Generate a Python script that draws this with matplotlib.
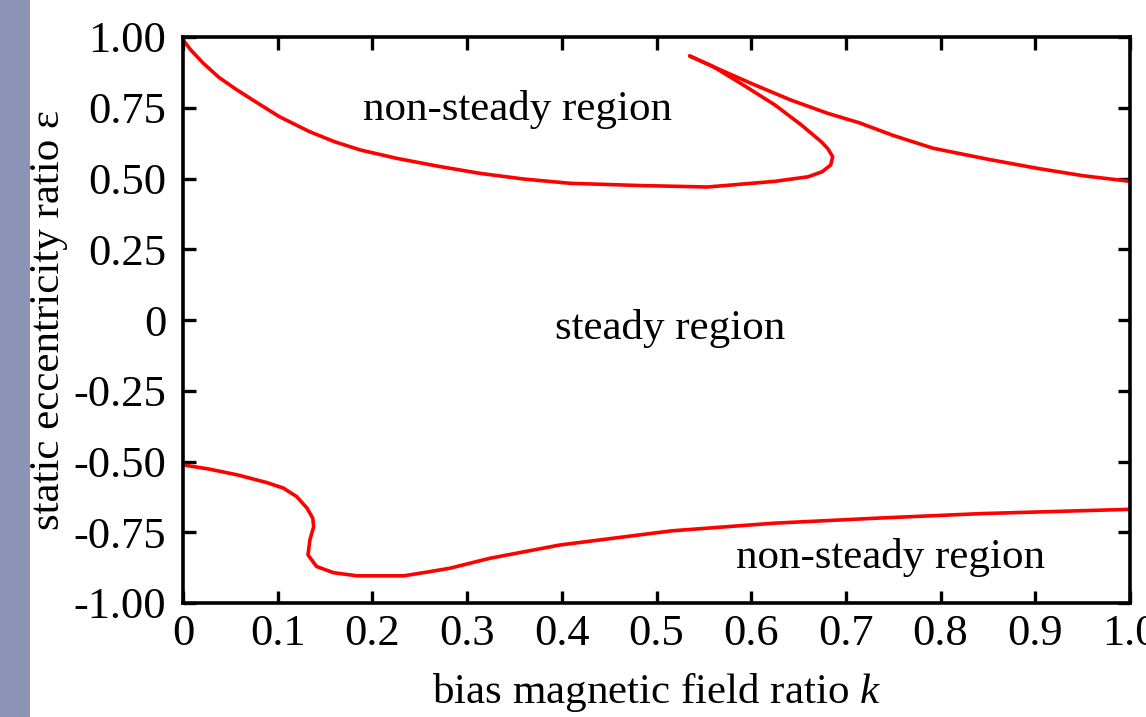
import numpy as np
import matplotlib
matplotlib.use('Agg')
import matplotlib.pyplot as plt
from matplotlib.patches import Rectangle

plt.rcParams['font.family'] = ['Liberation Serif', 'DejaVu Serif']
plt.rcParams['mathtext.fontset'] = 'custom'
plt.rcParams['mathtext.rm'] = 'Liberation Serif'
plt.rcParams['mathtext.it'] = 'Liberation Serif:italic'

# upper boundary: left branch, loop, back up to the tip
k_upper = [0.0, 0.008, 0.0215, 0.038, 0.057, 0.080, 0.102, 0.134, 0.160, 0.187, 0.226,
           0.270, 0.314, 0.360, 0.409, 0.484, 0.554, 0.625, 0.660, 0.675, 0.684,
           0.686, 0.681, 0.674, 0.653, 0.625, 0.589, 0.560, 0.535]
e_upper = [0.99, 0.955, 0.907, 0.857, 0.813, 0.764, 0.718, 0.665, 0.630, 0.601, 0.571,
           0.543, 0.518, 0.498, 0.483, 0.475, 0.470, 0.490, 0.506, 0.524, 0.548,
           0.577, 0.605, 0.630, 0.689, 0.760, 0.836, 0.895, 0.933]

# upper boundary: right branch
k_right = [0.535, 0.560, 0.600, 0.642, 0.681, 0.714, 0.750, 0.792, 0.850, 0.902, 0.950, 1.0]
e_right = [0.933, 0.895, 0.836, 0.777, 0.730, 0.697, 0.652, 0.607, 0.568, 0.536, 0.510, 0.49]

# lower boundary
k_lower = [0.0, 0.028, 0.057, 0.088, 0.106, 0.120, 0.131, 0.137, 0.138, 0.134,
           0.132, 0.141, 0.159, 0.184, 0.233, 0.261, 0.282, 0.324, 0.398, 0.516,
           0.624, 0.734, 0.844, 1.0]
e_lower = [-0.512, -0.527, -0.547, -0.574, -0.594, -0.624, -0.665, -0.700, -0.730, -0.777,
           -0.830, -0.871, -0.893, -0.904, -0.904, -0.889, -0.877, -0.842, -0.795, -0.745,
           -0.718, -0.700, -0.684, -0.669]

xticks = [0, 0.1, 0.2, 0.3, 0.4, 0.5, 0.6, 0.7, 0.8, 0.9, 1.0]
xticklabels = ['0', '0.1', '0.2', '0.3', '0.4', '0.5', '0.6', '0.7', '0.8', '0.9', '1.0']
yticks = [1.0, 0.75, 0.5, 0.25, 0, -0.25, -0.5, -0.75, -1.0]
yticklabels = ['1.00', '0.75', '0.50', '0.25', '0', '-0.25', '-0.50', '-0.75', '-1.00']

fig = plt.figure(figsize=(11.46, 7.17), dpi=100)
fig.patches.append(Rectangle((0, 0), 30 / 1146, 1, transform=fig.transFigure,
                             facecolor='#8d93b4', edgecolor='none', zorder=0))
ax = fig.add_axes([183 / 1146, 1 - 603 / 717, (1130 - 183) / 1146, (603 - 37) / 717])

for kx, ey in [(k_upper, e_upper), (k_right, e_right), (k_lower, e_lower)]:
    ax.plot(kx, ey, color='#ff0000', lw=2.6, solid_joinstyle='round',
            solid_capstyle='round')

ax.set_xlim(0, 1.0)
ax.set_ylim(-1.0, 1.0)
ax.set_xticks(xticks)
ax.set_xticklabels(xticklabels)
ax.set_yticks(yticks)
ax.set_yticklabels(yticklabels)
ax.tick_params(direction='in', length=9, width=2.4, labelsize=32,
               top=True, right=True)
ax.tick_params(axis='x', pad=8)
ax.tick_params(axis='y', pad=12)
for s in ax.spines.values():
    s.set_linewidth(2.6)

ax.text(0.353, 0.745, 'non-steady region', fontsize=31, ha='center', va='center')
ax.text(0.514, -0.03, 'steady region', fontsize=31, ha='center', va='center')
ax.text(0.747, -0.84, 'non-steady region', fontsize=31, ha='center', va='center')

ax.set_xlabel('bias magnetic field ratio $\\mathit{k}$', fontsize=31, labelpad=12)
ax.set_ylabel('static eccentricity ratio ε', fontsize=31, labelpad=4)

fig.savefig('out.png', dpi=100)
